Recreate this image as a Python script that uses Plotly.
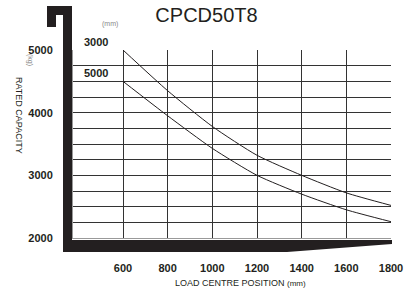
import plotly.graph_objects as go

# ---- data ----
load_centre = [600, 800, 1000, 1200, 1400, 1600, 1800]          # mm
cap_lift_3000 = [5000, 4350, 3780, 3320, 3000, 2720, 2520]      # kg
cap_lift_5000 = [4500, 3950, 3430, 3000, 2700, 2450, 2260]      # kg
lift_names = ["3000", "5000"]

x_ticks = [600, 800, 1000, 1200, 1400, 1600, 1800]
x_tick_text = ["600", "800", "1000", "1200", "1400", "1600", "1800"]
y_ticks = [2000, 2250, 2500, 2750, 3000, 3250, 3500, 3750, 4000, 4250, 4500, 4750, 5000]
y_tick_text = ["2000", "", "", "", "3000", "", "", "", "4000", "", "", "", "5000"]

# ---- layout geometry (pixels) ----
W, H = 404, 304
L, R, T, B = 73, 391, 50, 238
INK = "#231f20"
FONT = "Liberation Sans, Arial, sans-serif"


def px(x):
    return (x - L) / (R - L)


def py(y):
    return (B - y) / (B - T)


fig = go.Figure()
for caps, name in zip([cap_lift_3000, cap_lift_5000], lift_names):
    fig.add_trace(go.Scatter(
        x=load_centre, y=caps, mode="lines", name=name,
        line=dict(color=INK, width=1, shape="spline", smoothing=0.6),
        showlegend=False, hoverinfo="skip"))
    fig.add_annotation(x=load_centre[0], y=caps[0], xref="x", yref="y",
                       text="<b>%s</b>" % name, showarrow=False,
                       xanchor="right", yanchor="bottom", xshift=-13, yshift=0,
                       font=dict(family=FONT, size=11, color=INK))

shapes = []
# black frame bars
shapes.append(dict(type="rect", xref="paper", yref="paper",
                   x0=px(63), x1=px(72), y0=py(252), y1=py(6),
                   fillcolor=INK, line_width=0, layer="above"))
shapes.append(dict(type="rect", xref="paper", yref="paper",
                   x0=px(47), x1=px(72), y0=py(15), y1=py(6),
                   fillcolor=INK, line_width=0, layer="above"))
shapes.append(dict(type="rect", xref="paper", yref="paper",
                   x0=px(47), x1=px(56), y0=py(27), y1=py(6),
                   fillcolor=INK, line_width=0, layer="above"))
path = "M %f,%f L %f,%f L %f,%f L %f,%f L %f,%f Z" % (
    px(63), py(240), px(392), py(240), px(392), py(244), px(287), py(252), px(63), py(252))
shapes.append(dict(type="path", xref="paper", yref="paper", path=path,
                   fillcolor=INK, line_width=0, layer="above"))
fig.update_layout(shapes=shapes)

fig.update_layout(
    width=W, height=H,
    margin=dict(l=L, r=W - R, t=T, b=H - B, pad=0, autoexpand=False),
    paper_bgcolor="white", plot_bgcolor="white",
    title=dict(text="CPCD50T8", x=206.5 / W, xanchor="center",
               y=1 - 15 / H, yanchor="middle", xref="container", yref="container",
               font=dict(family=FONT, size=20, color=INK)),
    xaxis=dict(range=[600 - 50 * 1200 / (R - 123), 1800], tickvals=x_ticks, ticktext=x_tick_text,
               showgrid=True, gridcolor="#333", gridwidth=1,
               showline=True, linecolor="#999", linewidth=1,
               zeroline=False, ticks="", ticklabelstandoff=20, automargin=False,
               tickfont=dict(family=FONT, size=11, color=INK, weight="bold"),
               fixedrange=True),
    yaxis=dict(range=[2000, 5000], tickvals=y_ticks, ticktext=y_tick_text,
               showgrid=True, gridcolor="#333", gridwidth=1,
               showline=True, linecolor="#999", linewidth=1,
               zeroline=False, ticks="", ticklabelstandoff=17, automargin=False,
               tickfont=dict(family=FONT, size=11, color=INK, weight="bold"),
               fixedrange=True),
)

# extra texts
fig.add_annotation(xref="paper", yref="paper", x=px(100), y=py(18), text="(mm)",
                   showarrow=False, font=dict(family=FONT, size=7, color="#888"))
fig.add_annotation(xref="paper", yref="paper", x=px(24), y=py(52), text="(kg)",
                   textangle=90, showarrow=False, font=dict(family=FONT, size=7, color="#888"))
fig.add_annotation(xref="paper", yref="paper", x=px(12), y=py(116), text="RATED CAPACITY",
                   textangle=90, showarrow=False, font=dict(family=FONT, size=9, color=INK))
fig.add_annotation(xref="paper", yref="paper", x=px(240), y=py(290),
                   text="LOAD CENTRE POSITION <span style='font-size:8px'>(mm)</span>",
                   showarrow=False, font=dict(family=FONT, size=9, color=INK))

fig.write_html("out.html", config={"displayModeBar": False},
               post_script="document.body.style.margin='0';")
